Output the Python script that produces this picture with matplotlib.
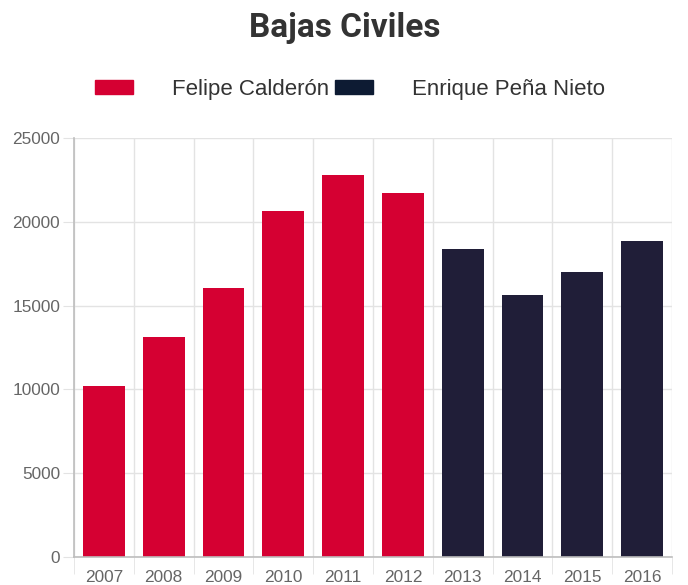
import matplotlib.pyplot as plt
import numpy as np

years = ['2007', '2008', '2009', '2010', '2011', '2012', '2013', '2014', '2015', '2016']
calderon = [10200, 13150, 16050, 20650, 22800, 21700]
pena = [18350, 15650, 17000, 18850]
red = '#d50032'
navy = '#201e38'
navy_legend = '#0d1b33'
grid_c = '#e3e3e3'

plt.rcParams['font.family'] = ['Liberation Sans', 'DejaVu Sans']

fig = plt.figure(figsize=(6.88, 5.85), dpi=100)
ax = fig.add_axes([74 / 688, 1 - 557 / 585, (672 - 74) / 688, (557 - 138) / 585])

x = np.arange(len(years))
ax.bar(x[:len(calderon)], calderon, width=0.7, color=red, zorder=2)
ax.bar(x[len(calderon):], pena, width=0.7, color=navy, zorder=2)

ax.set_xlim(-0.5, len(years) - 0.5)
ax.set_ylim(0, 25000)
ax.set_yticks(range(0, 25001, 5000))
ax.set_xticks(x)
ax.set_xticklabels(years)
ax.set_xticks(np.arange(-0.5, len(years), 1), minor=True)

ax.grid(axis='y', color=grid_c, linewidth=1, zorder=0)
ax.grid(axis='x', which='minor', color=grid_c, linewidth=1, zorder=0)
ax.tick_params(axis='y', length=8, color=grid_c, labelcolor='#666666', labelsize=12.4, pad=2)
ax.tick_params(axis='x', which='major', length=0, labelcolor='#666666', labelsize=12.4, pad=9)
ax.tick_params(axis='x', which='minor', length=12, color=grid_c)
for s in ['top', 'right']:
    ax.spines[s].set_visible(False)
for s in ['left', 'bottom']:
    ax.spines[s].set_color('#bdbdbd')
    ax.spines[s].set_linewidth(1.2)

fig.text(0.5 + 1 / 688, 1 - 28 / 585, 'Bajas Civiles', ha='center', va='center',
         fontsize=24, fontweight='bold', color='#333333', family=['Roboto', 'DejaVu Sans'])

h1 = plt.Rectangle((0, 0), 1, 1, color=red)
h2 = plt.Rectangle((0, 0), 1, 1, color=navy_legend)
fig.legend([h1, h2], ['Felipe Calderón', 'Enrique Peña Nieto'], loc='center',
           bbox_to_anchor=(0.5 + 6 / 688, 1 - 89 / 585), ncol=2, frameon=False,
           fontsize=16, labelcolor='#333333', handlelength=1.7, handleheight=0.6,
           handletextpad=1.75, columnspacing=0.3)

fig.savefig('out.png', dpi=100)
